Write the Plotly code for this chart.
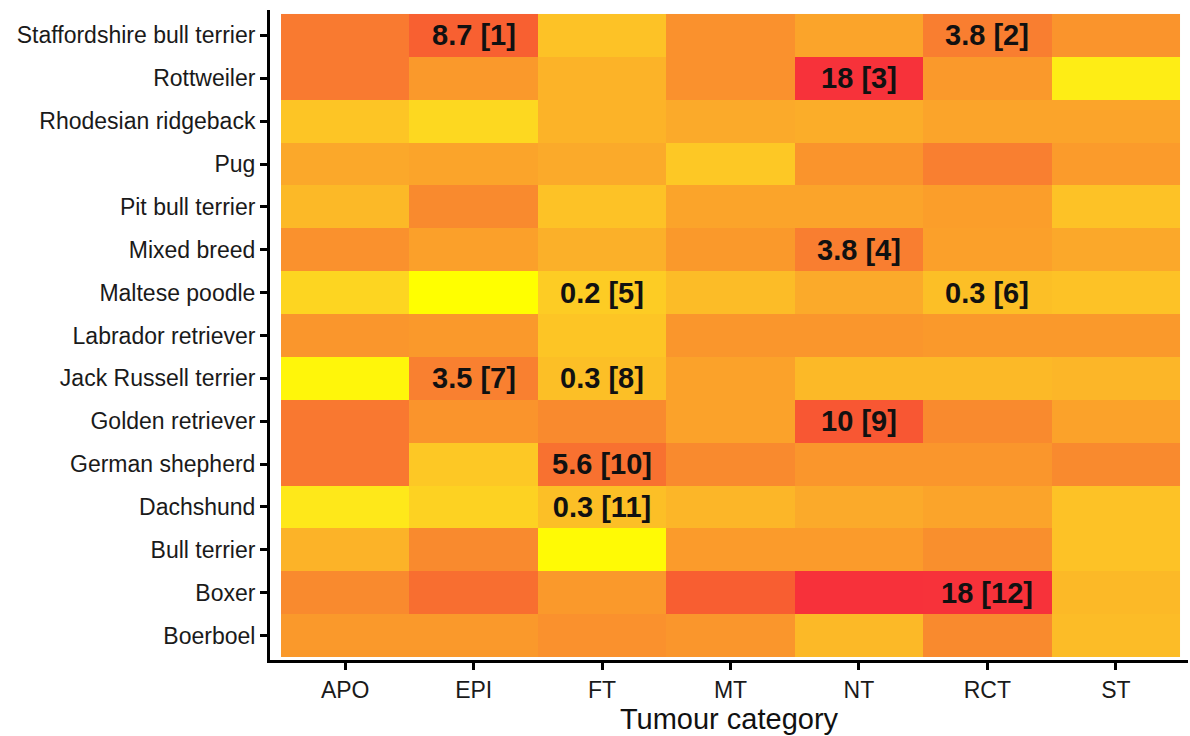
import plotly.graph_objects as go

# Tumour categories (x) and breeds (y, bottom to top)
categories = ["APO", "EPI", "FT", "MT", "NT", "RCT", "ST"]
breeds = [
    "Boerboel", "Boxer", "Bull terrier", "Dachshund", "German shepherd",
    "Golden retriever", "Jack Russell terrier", "Labrador retriever",
    "Maltese poodle", "Mixed breed", "Pit bull terrier", "Pug",
    "Rhodesian ridgeback", "Rottweiler", "Staffordshire bull terrier",
]

# Estimated log odds ratio per cell (read from colours), rows follow `breeds`
log_or = [
    [0.3, 0.3, 0.6, 0.4, -1.0, 0.9, -1.1],      # Boerboel
    [0.9, 1.8, 0.3, 2.2, 2.9, 2.89, -1.0],      # Boxer
    [-0.8, 0.9, -2.9, 0.2, 0.2, 0.7, -1.3],     # Bull terrier
    [-2.5, -1.8, -1.2, -0.9, -0.5, -0.2, -1.3], # Dachshund
    [1.5, -1.5, 1.72, 0.9, 0.4, 0.4, 0.9],      # German shepherd
    [1.5, 0.5, 0.9, -0.1, 2.3, 0.9, -0.1],      # Golden retriever
    [-2.8, 1.25, -1.2, -0.1, -1.0, -1.0, -0.9], # Jack Russell terrier
    [0.4, 0.3, -1.4, 0.4, 0.4, 0.3, 0.3],       # Labrador retriever
    [-1.9, -3.0, -1.61, -1.1, -0.5, -1.2, -1.3],# Maltese poodle
    [0.6, 0.0, -0.7, 0.3, 1.33, 0.0, -0.4],     # Mixed breed
    [-1.0, 0.9, -1.3, -0.2, -0.2, 0.1, -1.3],   # Pit bull terrier
    [-0.4, -0.2, -0.5, -1.5, 0.5, 1.3, 0.2],    # Pug
    [-1.4, -2.0, -0.8, -0.5, -0.6, -0.2, -0.2], # Rhodesian ridgeback
    [1.45, 0.3, -0.8, 0.6, 2.89, 0.3, -2.6],    # Rottweiler
    [1.45, 2.16, -1.3, 0.6, -0.2, 1.33, 0.5],   # Staffordshire bull terrier
]

# Significant odds ratios shown as labels
labels = [
    ["", "", "", "", "", "", ""],
    ["", "", "", "", "", "18 [12]", ""],
    ["", "", "", "", "", "", ""],
    ["", "", "0.3 [11]", "", "", "", ""],
    ["", "", "5.6 [10]", "", "", "", ""],
    ["", "", "", "", "10 [9]", "", ""],
    ["", "3.5 [7]", "0.3 [8]", "", "", "", ""],
    ["", "", "", "", "", "", ""],
    ["", "", "0.2 [5]", "", "", "0.3 [6]", ""],
    ["", "", "", "", "3.8 [4]", "", ""],
    ["", "", "", "", "", "", ""],
    ["", "", "", "", "", "", ""],
    ["", "", "", "", "", "", ""],
    ["", "", "", "", "18 [3]", "", ""],
    ["", "8.7 [1]", "", "", "", "3.8 [2]", ""],
]

colorscale = [
    [0.0, "#FFFF00"],
    [0.083, "#FEE81A"],
    [0.25, "#FDC825"],
    [0.417, "#FBAA2A"],
    [0.5, "#FBA02A"],
    [0.65, "#F98A2E"],
    [0.717, "#F97F30"],
    [0.85, "#F86430"],
    [0.983, "#F7313A"],
    [1.0, "#F72E3A"],
]

fig = go.Figure(go.Heatmap(
    z=log_or,
    x=categories,
    y=breeds,
    text=labels,
    texttemplate="%{text}",
    textfont=dict(family="Liberation Sans, Arial", size=29, color="#111111", weight="bold"),
    colorscale=colorscale,
    zmin=-3, zmax=3,
    showscale=False,
    xgap=0, ygap=0,
    hoverinfo="skip",
))

fig.update_layout(
    width=1190, height=736,
    margin=dict(l=270, r=2, t=10, b=76),
    paper_bgcolor="white",
    plot_bgcolor="white",
    font=dict(family="Liberation Sans, Arial", size=23, color="#1a1a1a"),
)

fig.update_xaxes(
    range=[-0.5857, 6.562],
    showline=True, linecolor="black", linewidth=3,
    ticks="outside", ticklen=7, tickwidth=2.5, tickcolor="black",
    showgrid=False, zeroline=False,
    tickfont=dict(size=23, color="#1a1a1a"),
    title=dict(text="Tumour category", font=dict(size=29, color="#111111"), standoff=8),
)
fig.update_yaxes(
    range=[-0.57, 14.593],
    showline=True, linecolor="black", linewidth=3,
    ticks="outside", ticklen=7, tickwidth=2.5, tickcolor="black",
    showgrid=False, zeroline=False,
    tickfont=dict(size=23, color="#1a1a1a"),
)

fig.write_html("out.html")
